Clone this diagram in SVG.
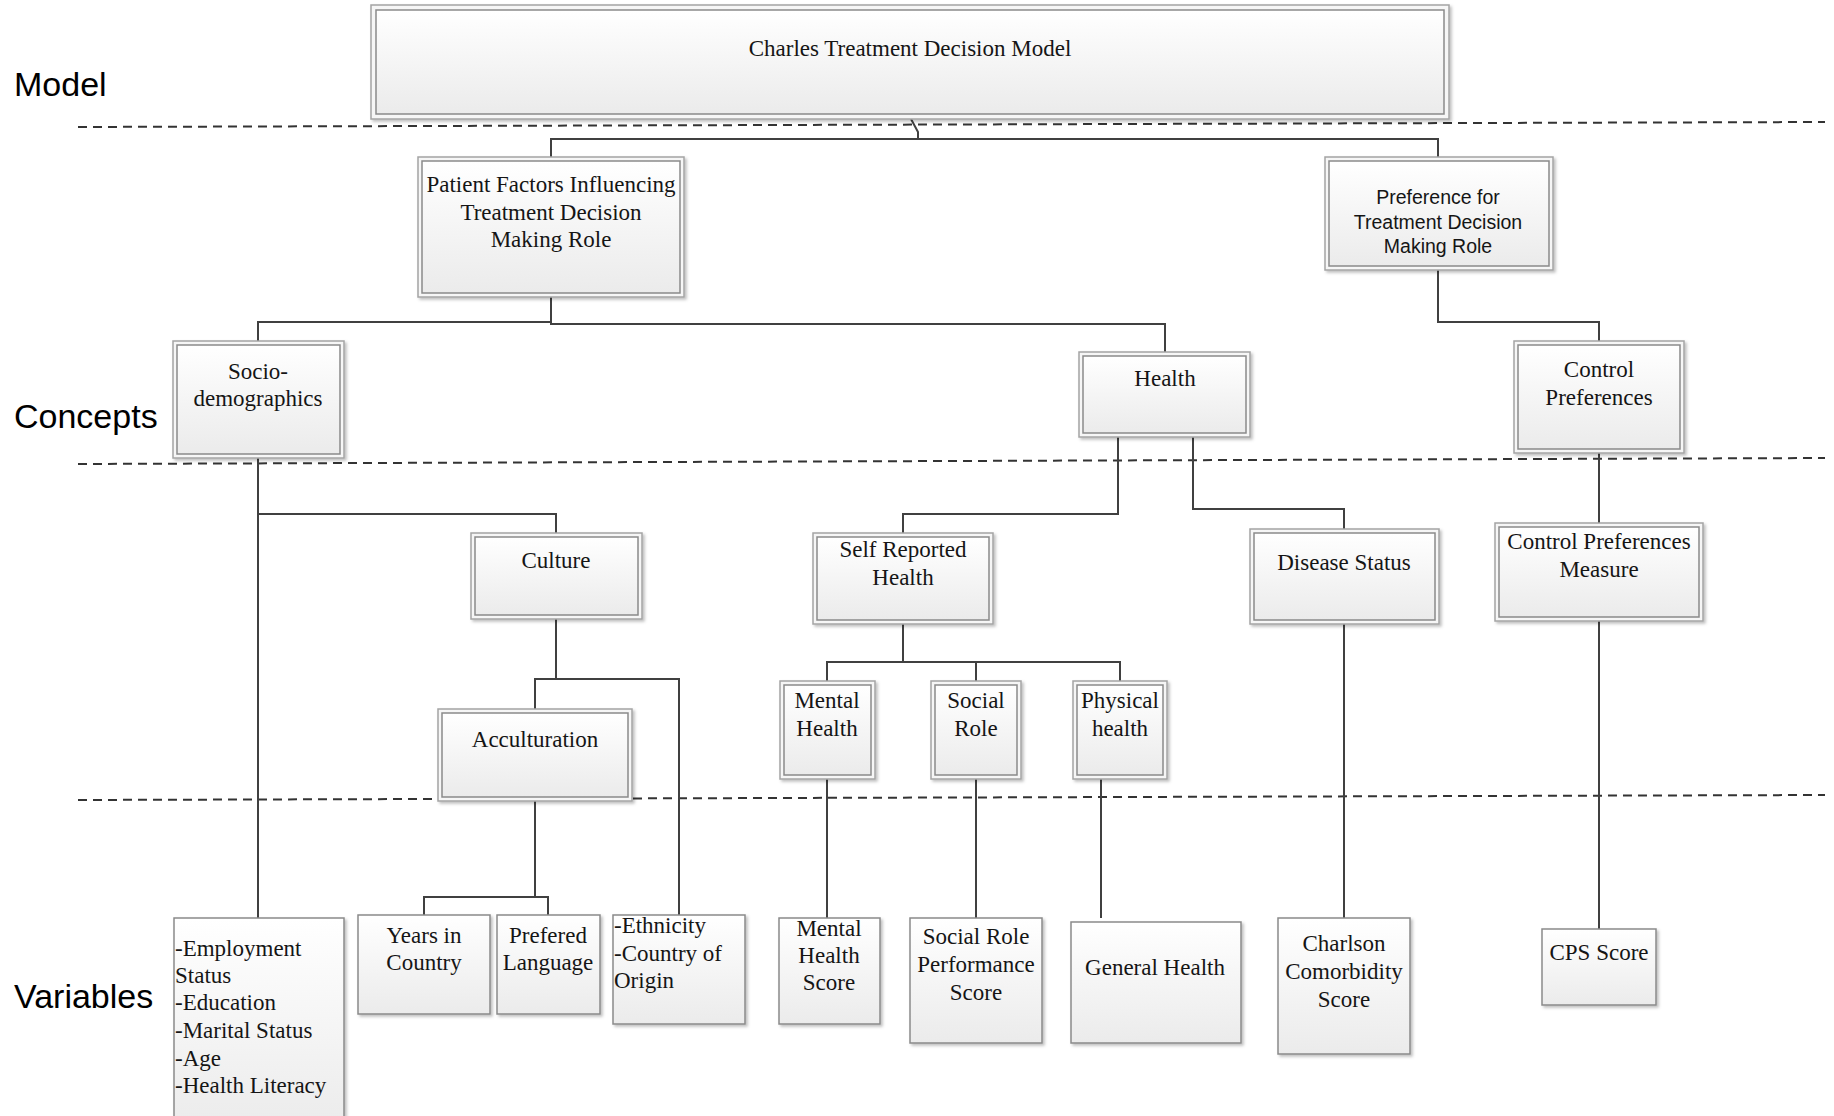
<svg xmlns="http://www.w3.org/2000/svg" width="1834" height="1116" viewBox="0 0 1834 1116">
<defs>
<linearGradient id="grad" x1="0" y1="0" x2="0" y2="1">
<stop offset="0" stop-color="#ffffff"/>
<stop offset="1" stop-color="#ebebeb"/>
</linearGradient>
<filter id="sh" x="-10%" y="-10%" width="130%" height="130%">
<feDropShadow dx="2" dy="2" stdDeviation="1.5" flood-color="#000" flood-opacity="0.25"/>
</filter>
</defs>
<style>
.o{fill:#f6f6f6;stroke:#a4a4a4;stroke-width:1.5;filter:url(#sh)}
.i{fill:url(#grad);stroke:#8a8a8a;stroke-width:1.5}
.v{fill:url(#grad);stroke:#8a8a8a;stroke-width:1.5;filter:url(#sh)}
.t{font-family:"Liberation Serif","Times New Roman",serif;font-size:23px;fill:#151515;text-anchor:middle}
.tl{font-family:"Liberation Serif","Times New Roman",serif;font-size:23px;fill:#151515;text-anchor:start}
.s{font-family:"Liberation Sans",Arial,sans-serif;font-size:19.5px;fill:#151515;text-anchor:middle}
.lab{font-family:"Liberation Sans",Arial,sans-serif;font-size:34px;fill:#000}
.dash{stroke:#333;stroke-width:2;stroke-dasharray:9 6;fill:none}
.c{stroke:#404040;stroke-width:2;fill:none}
</style>
<rect width="1834" height="1116" fill="#fff"/>

<g id="levels">
<line class="dash" x1="78" y1="127" x2="1825" y2="122"/>
<line class="dash" x1="78" y1="464" x2="1825" y2="458"/>
<line class="dash" x1="78" y1="800" x2="1825" y2="795"/>
<text class="lab" x="14" y="96">Model</text>
<text class="lab" x="14" y="428">Concepts</text>
<text class="lab" x="14" y="1008">Variables</text>
</g>

<g id="connectors">
<polyline class="c" points="911,119 918,132 918,139"/>
<polyline class="c" points="551,157 551,139 1438,139 1438,157"/>
<polyline class="c" points="551,297 551,322 258,322 258,341"/>
<polyline class="c" points="551,322 551,324 1165,324 1165,352"/>
<polyline class="c" points="1438,270 1438,322 1599,322 1599,341"/>
<line class="c" x1="258" y1="458" x2="258" y2="918"/>
<polyline class="c" points="258,514 556,514 556,533"/>
<polyline class="c" points="1118,437 1118,514 903,514 903,533"/>
<polyline class="c" points="1193,437 1193,509 1344,509 1344,529"/>
<line class="c" x1="1599" y1="453" x2="1599" y2="523"/>
<line class="c" x1="556" y1="619" x2="556" y2="679"/>
<polyline class="c" points="535,709 535,679 679,679 679,915"/>
<line class="c" x1="903" y1="624" x2="903" y2="662"/>
<polyline class="c" points="827,681 827,662 1120,662 1120,681"/>
<line class="c" x1="976" y1="662" x2="976" y2="681"/>
<line class="c" x1="535" y1="801" x2="535" y2="897"/>
<polyline class="c" points="424,915 424,897 548,897 548,915"/>
<line class="c" x1="827" y1="779" x2="827" y2="918"/>
<line class="c" x1="976" y1="779" x2="976" y2="918"/>
<line class="c" x1="1101" y1="779" x2="1101" y2="918"/>
<line class="c" x1="1344" y1="624" x2="1344" y2="918"/>
<line class="c" x1="1599" y1="621" x2="1599" y2="929"/>
</g>

<g id="model">
<rect class="o" x="371" y="5" width="1078" height="114"/>
<rect class="i" x="376" y="10" width="1068" height="104"/>
<text class="t" x="910" y="56">Charles Treatment Decision Model</text>
</g>

<g id="patient-factors">
<rect class="o" x="418" y="157" width="266" height="140"/>
<rect class="i" x="422" y="161" width="258" height="132"/>
<text class="t" x="551" y="192">Patient Factors Influencing</text>
<text class="t" x="551" y="220">Treatment Decision</text>
<text class="t" x="551" y="247">Making Role</text>
</g>

<g id="preference">
<rect class="o" x="1325" y="157" width="228" height="113"/>
<rect class="i" x="1329" y="161" width="220" height="105"/>
<text class="s" x="1438" y="204">Preference for</text>
<text class="s" x="1438" y="229">Treatment Decision</text>
<text class="s" x="1438" y="253">Making Role</text>
</g>

<g id="socio">
<rect class="o" x="173" y="341" width="171" height="117"/>
<rect class="i" x="177" y="345" width="163" height="109"/>
<text class="t" x="258" y="379">Socio-</text>
<text class="t" x="258" y="406">demographics</text>
</g>

<g id="health">
<rect class="o" x="1079" y="352" width="171" height="85"/>
<rect class="i" x="1083" y="356" width="163" height="77"/>
<text class="t" x="1165" y="386">Health</text>
</g>

<g id="control">
<rect class="o" x="1514" y="341" width="170" height="112"/>
<rect class="i" x="1518" y="345" width="162" height="104"/>
<text class="t" x="1599" y="377">Control</text>
<text class="t" x="1599" y="405">Preferences</text>
</g>

<g id="culture">
<rect class="o" x="471" y="533" width="171" height="86"/>
<rect class="i" x="475" y="537" width="163" height="78"/>
<text class="t" x="556" y="568">Culture</text>
</g>

<g id="self-reported">
<rect class="o" x="813" y="533" width="180" height="91"/>
<rect class="i" x="817" y="537" width="172" height="83"/>
<text class="t" x="903" y="557">Self Reported</text>
<text class="t" x="903" y="585">Health</text>
</g>

<g id="disease">
<rect class="o" x="1250" y="529" width="189" height="95"/>
<rect class="i" x="1254" y="533" width="181" height="87"/>
<text class="t" x="1344" y="570">Disease Status</text>
</g>

<g id="cp-measure">
<rect class="o" x="1495" y="523" width="208" height="98"/>
<rect class="i" x="1499" y="527" width="200" height="90"/>
<text class="t" x="1599" y="549">Control Preferences</text>
<text class="t" x="1599" y="577">Measure</text>
</g>

<g id="acculturation">
<rect class="o" x="438" y="709" width="194" height="92"/>
<rect class="i" x="442" y="713" width="186" height="84"/>
<text class="t" x="535" y="747">Acculturation</text>
</g>

<g id="mental">
<rect class="o" x="780" y="681" width="95" height="98"/>
<rect class="i" x="784" y="685" width="87" height="90"/>
<text class="t" x="827" y="708">Mental</text>
<text class="t" x="827" y="736">Health</text>
</g>

<g id="social">
<rect class="o" x="931" y="681" width="90" height="98"/>
<rect class="i" x="935" y="685" width="82" height="90"/>
<text class="t" x="976" y="708">Social</text>
<text class="t" x="976" y="736">Role</text>
</g>

<g id="physical">
<rect class="o" x="1073" y="681" width="94" height="98"/>
<rect class="i" x="1077" y="685" width="86" height="90"/>
<text class="t" x="1120" y="708">Physical</text>
<text class="t" x="1120" y="736">health</text>
</g>

<g id="socio-vars">
<rect class="v" x="174" y="918" width="170" height="215"/>
<text class="tl" x="175" y="956">-Employment</text>
<text class="tl" x="175" y="983">Status</text>
<text class="tl" x="175" y="1010">-Education</text>
<text class="tl" x="175" y="1038">-Marital Status</text>
<text class="tl" x="175" y="1066">-Age</text>
<text class="tl" x="175" y="1093">-Health Literacy</text>
</g>

<g id="years">
<rect class="v" x="358" y="915" width="132" height="99"/>
<text class="t" x="424" y="943">Years in</text>
<text class="t" x="424" y="970">Country</text>
</g>

<g id="language">
<rect class="v" x="497" y="915" width="103" height="99"/>
<text class="t" x="548" y="943">Prefered</text>
<text class="t" x="548" y="970">Language</text>
</g>

<g id="ethnicity">
<rect class="v" x="613" y="915" width="132" height="109"/>
<text class="tl" x="614" y="933">-Ethnicity</text>
<text class="tl" x="614" y="961">-Country of</text>
<text class="tl" x="614" y="988">Origin</text>
</g>

<g id="mh-score">
<rect class="v" x="779" y="918" width="101" height="106"/>
<text class="t" x="829" y="936">Mental</text>
<text class="t" x="829" y="963">Health</text>
<text class="t" x="829" y="990">Score</text>
</g>

<g id="srp-score">
<rect class="v" x="910" y="918" width="132" height="125"/>
<text class="t" x="976" y="944">Social Role</text>
<text class="t" x="976" y="972">Performance</text>
<text class="t" x="976" y="1000">Score</text>
</g>

<g id="general-health">
<rect class="v" x="1071" y="922" width="170" height="121"/>
<text class="t" x="1155" y="975">General Health</text>
</g>

<g id="charlson">
<rect class="v" x="1278" y="918" width="132" height="136"/>
<text class="t" x="1344" y="951">Charlson</text>
<text class="t" x="1344" y="979">Comorbidity</text>
<text class="t" x="1344" y="1007">Score</text>
</g>

<g id="cps">
<rect class="v" x="1542" y="929" width="114" height="76"/>
<text class="t" x="1599" y="960">CPS Score</text>
</g>
</svg>
